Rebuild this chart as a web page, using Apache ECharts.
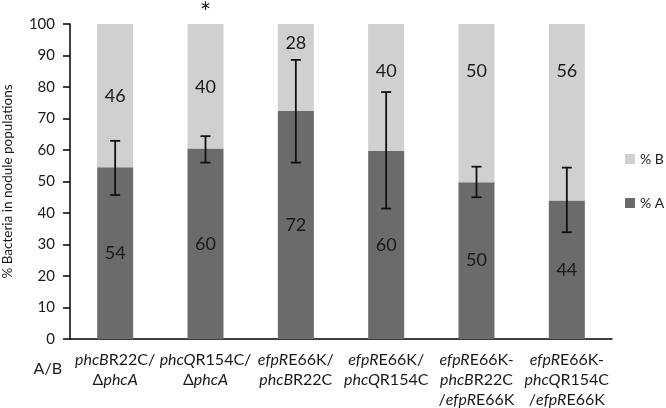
<!DOCTYPE html>
<html>
<head>
<meta charset="utf-8">
<script src="https://cdn.jsdelivr.net/npm/echarts@6/dist/echarts.min.js"></script>
<style>html,body{margin:0;padding:0;background:#fff}#c{width:666px;height:408px}</style>
</head>
<body>
<div id="c"></div>
<script>
// ---- data ----
const categories = [
  '{i|phcB}R22C/\nΔ{i|phcA}',
  '{i|phcQ}R154C/\nΔ{i|phcA}',
  '{i|efpR}E66K/\n{i|phcB}R22C',
  '{i|efpR}E66K/\n{i|phcQ}R154C',
  '{i|efpR}E66K-\n{i|phcB}R22C\n/{i|efpR}E66K',
  '{i|efpR}E66K-\n{i|phcQ}R154C\n/{i|efpR}E66K'
];
const aValues = [54.5, 60.5, 72.4, 59.8, 49.8, 44.0];
const bValues = [45.5, 39.5, 27.6, 40.2, 50.2, 56.0];
const aLabels = ['54', '60', '72', '60', '50', '44'];
const bLabels = ['46', '40', '28', '40', '50', '56'];
const errLow  = [45.7, 56.0, 56.0, 41.4, 45.0, 33.9];
const errHigh = [62.9, 64.4, 88.6, 78.4, 54.7, 54.4];
const significance = ['', '*', '', '', '', ''];

// ---- layout / style ----
const FONT = 'Lato, "Noto Sans", sans-serif';
const bLabelAt = [77, 80, 94, 85, 85, 85];   // where the % B numbers sit
const DARK = '#6b6b6b', LIGHT = '#d0d0d0';

const chart = echarts.init(document.getElementById('c'), null, {renderer: 'canvas'});

function textSeries(name, labels, anchor, size, dy) {
  return {
    type: 'custom', name: name, silent: true, z: 20,
    data: labels.map((t, i) => [i, anchor[i]]),
    renderItem: function (params, api) {
      const i = api.value(0);
      const p = api.coord([i, api.value(1)]);
      return {
        type: 'text', x: p[0], y: p[1] + dy,
        style: {text: labels[i], fill: '#1a1a1a', fontSize: size, fontFamily: FONT,
                align: 'center', verticalAlign: 'middle'}
      };
    }
  };
}

chart.setOption({
  animation: false,
  textStyle: {fontFamily: FONT},
  grid: {left: 70, right: 54, top: 24, bottom: 69, containLabel: false, outerBoundsMode: 'none'},
  legend: {
    data: ['% B', '% A'], orient: 'vertical', left: 620, top: 147,
    itemWidth: 10, itemHeight: 10, itemGap: 30, icon: 'rect',
    textStyle: {fontSize: 14, color: '#222', fontFamily: FONT}
  },
  xAxis: {
    type: 'category', data: categories,
    name: 'A/B', nameLocation: 'start', nameGap: 8,
    nameTextStyle: {fontSize: 16, color: '#1a1a1a', verticalAlign: 'top', padding: [22, 0, 0, 0]},
    axisLine: {lineStyle: {color: '#000', width: 1.5}},
    axisTick: {length: 6, lineStyle: {color: '#000', width: 1.5}},
    axisLabel: {
      interval: 0, margin: 11, color: '#1a1a1a', fontSize: 16, lineHeight: 20,
      rich: {i: {fontStyle: 'italic', fontSize: 16, lineHeight: 20, color: '#1a1a1a'}}
    }
  },
  yAxis: {
    type: 'value', min: 0, max: 100, interval: 10,
    name: '% Bacteria in nodule populations', nameLocation: 'middle', nameGap: 55,
    nameTextStyle: {fontSize: 13.5, color: '#1a1a1a'},
    axisLine: {show: true, lineStyle: {color: '#000', width: 1.5}},
    axisTick: {show: true, length: 7, lineStyle: {color: '#000', width: 1.5}},
    axisLabel: {fontSize: 15, color: '#1a1a1a', margin: 15},
    splitLine: {show: false}
  },
  series: [
    {
      name: '% A', type: 'bar', stack: 't', barWidth: 36, data: aValues,
      itemStyle: {color: DARK},
      label: {show: true, position: 'inside', fontSize: 18, color: '#1a1a1a',
              formatter: p => aLabels[p.dataIndex]}
    },
    {
      name: '% B', type: 'bar', stack: 't', barWidth: 36, data: bValues,
      itemStyle: {color: LIGHT}
    },
    {
      type: 'custom', name: 'err', silent: true, z: 15,
      data: errLow.map((lo, i) => [i, lo, errHigh[i]]),
      renderItem: function (params, api) {
        const i = api.value(0);
        const lo = api.coord([i, api.value(1)]);
        const hi = api.coord([i, api.value(2)]);
        const h = 5, st = {stroke: '#111', lineWidth: 1.8};
        return {
          type: 'group', children: [
            {type: 'line', shape: {x1: lo[0], y1: lo[1], x2: hi[0], y2: hi[1]}, style: st},
            {type: 'line', shape: {x1: lo[0] - h, y1: lo[1], x2: lo[0] + h, y2: lo[1]}, style: st},
            {type: 'line', shape: {x1: hi[0] - h, y1: hi[1], x2: hi[0] + h, y2: hi[1]}, style: st}
          ]
        };
      }
    },
    textSeries('blabels', bLabels, bLabelAt, 18, 0),
    textSeries('sig', significance, [100, 100, 100, 100, 100, 100], 27, -11)
  ]
});
</script>
</body>
</html>
